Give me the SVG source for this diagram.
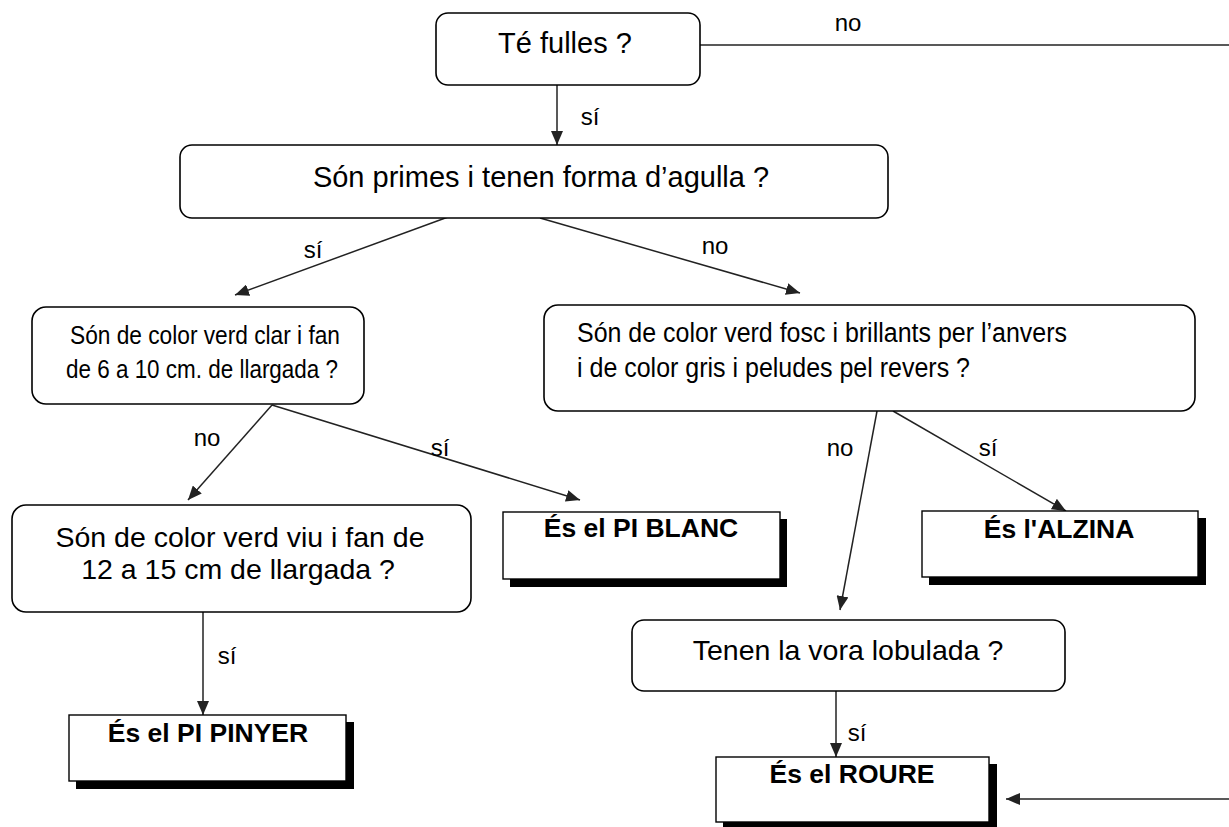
<svg xmlns="http://www.w3.org/2000/svg" width="1229" height="827" viewBox="0 0 1229 827">
<defs>
<style>
.q{fill:#fff;stroke:#000;stroke-width:1.6}
.r{fill:#fff;stroke:#000;stroke-width:1.4}
.sh{fill:#000}
.t{font-family:"Liberation Sans",Arial,sans-serif;fill:#000}
.b{font-family:"Liberation Sans",Arial,sans-serif;font-weight:bold;fill:#000}
.c{stroke:#222;stroke-width:1.5;fill:none}
.l{font-family:"Liberation Sans",Arial,sans-serif;font-size:24px;fill:#000}
</style>
<marker id="ah" markerUnits="userSpaceOnUse" markerWidth="14" markerHeight="12" refX="14" refY="6" orient="auto">
<path d="M0,0 L14,6 L0,12 z" fill="#222"/>
</marker>
</defs>
<rect width="1229" height="827" fill="#fff"/>
<g id="connectors">
<line class="c" x1="700" y1="45" x2="1229" y2="45"/>
<line class="c" x1="1229" y1="799" x2="1006" y2="799" marker-end="url(#ah)"/>
<line class="c" x1="557" y1="85" x2="557" y2="145" marker-end="url(#ah)"/>
<line class="c" x1="459" y1="213" x2="235" y2="295" marker-end="url(#ah)"/>
<line class="c" x1="540" y1="218" x2="800" y2="293" marker-end="url(#ah)"/>
<line class="c" x1="272" y1="405" x2="188" y2="500" marker-end="url(#ah)"/>
<line class="c" x1="272" y1="405" x2="580" y2="500" marker-end="url(#ah)"/>
<line class="c" x1="203" y1="612" x2="203" y2="715" marker-end="url(#ah)"/>
<line class="c" x1="893" y1="411" x2="1066" y2="511" marker-end="url(#ah)"/>
<line class="c" x1="877" y1="411" x2="840" y2="610" marker-end="url(#ah)"/>
<line class="c" x1="836" y1="691" x2="836" y2="757" marker-end="url(#ah)"/>
<text class="l" x="848" y="31" text-anchor="middle">no</text>
<text class="l" x="590" y="125" text-anchor="middle">sí</text>
<text class="l" x="313" y="258" text-anchor="middle">sí</text>
<text class="l" x="715" y="254" text-anchor="middle">no</text>
<text class="l" x="207" y="446" text-anchor="middle">no</text>
<text class="l" x="440" y="456" text-anchor="middle">sí</text>
<text class="l" x="227" y="664" text-anchor="middle">sí</text>
<text class="l" x="840" y="456" text-anchor="middle">no</text>
<text class="l" x="988" y="456" text-anchor="middle">sí</text>
<text class="l" x="857" y="741" text-anchor="middle">sí</text>
</g>
<g id="n1">
<rect class="q" x="436" y="13" width="264" height="72" rx="12"/>
<text class="t" x="565" y="53" font-size="29" text-anchor="middle">Té fulles ?</text>
</g>
<g id="n2">
<rect class="q" x="180" y="145" width="708" height="73" rx="12"/>
<text class="t" x="541" y="187" font-size="29" text-anchor="middle">Són primes i tenen forma d’agulla ?</text>
</g>
<g id="n3">
<rect class="q" x="32" y="307" width="332" height="97" rx="14"/>
<text class="t" x="70" y="344" font-size="25" textLength="270" lengthAdjust="spacingAndGlyphs">Són de color verd clar i fan</text>
<text class="t" x="66" y="378" font-size="25" textLength="272" lengthAdjust="spacingAndGlyphs">de 6 a 10 cm. de llargada ?</text>
</g>
<g id="n4">
<rect class="q" x="544" y="305" width="651" height="106" rx="14"/>
<text class="t" x="577" y="342" font-size="27" textLength="490" lengthAdjust="spacingAndGlyphs">Són de color verd fosc i brillants per l’anvers</text>
<text class="t" x="577" y="377" font-size="27" textLength="393" lengthAdjust="spacingAndGlyphs">i de color gris i peludes pel revers ?</text>
</g>
<g id="n5">
<rect class="q" x="12" y="505" width="459" height="107" rx="14"/>
<text class="t" x="240" y="547" font-size="28.5" text-anchor="middle">Són de color verd viu i fan de</text>
<text class="t" x="238" y="579" font-size="28.5" text-anchor="middle">12 a 15 cm  de llargada ?</text>
</g>
<g id="n6">
<rect class="q" x="632" y="620" width="433" height="71" rx="12"/>
<text class="t" x="848" y="660" font-size="28.5" text-anchor="middle">Tenen la vora lobulada ?</text>
</g>
<g id="pi-blanc">
<rect class="sh" x="510" y="519" width="277" height="68"/>
<rect class="r" x="503" y="512" width="277" height="67"/>
<text class="b" x="641" y="537" font-size="26.5" text-anchor="middle">És el PI BLANC</text>
</g>
<g id="pi-pinyer">
<rect class="sh" x="76" y="722" width="278" height="67"/>
<rect class="r" x="69" y="715" width="277" height="66"/>
<text class="b" x="208" y="742" font-size="26.5" text-anchor="middle">És el PI PINYER</text>
</g>
<g id="alzina">
<rect class="sh" x="929" y="518" width="277" height="67"/>
<rect class="r" x="922" y="511" width="276" height="66"/>
<text class="b" x="1059" y="538" font-size="26.5" text-anchor="middle">És l'ALZINA</text>
</g>
<g id="roure">
<rect class="sh" x="723" y="764" width="274" height="63"/>
<rect class="r" x="716" y="757" width="273" height="65"/>
<text class="b" x="852" y="783" font-size="26.5" text-anchor="middle">És el ROURE</text>
</g>
</svg>
